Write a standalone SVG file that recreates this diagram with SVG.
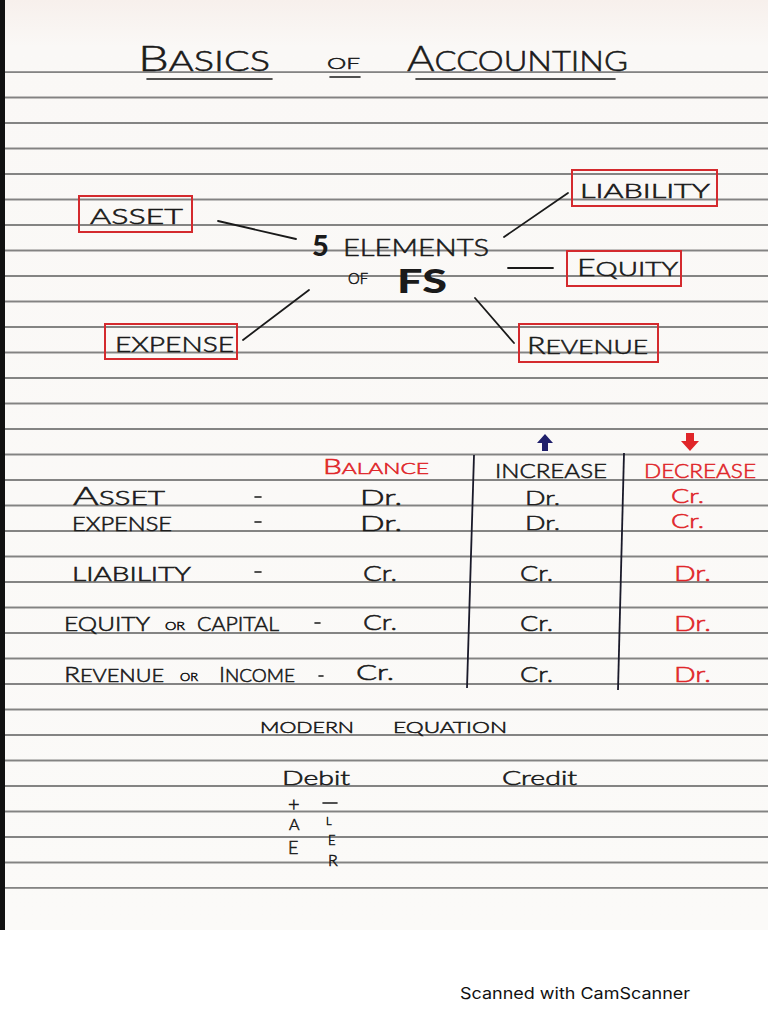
<svg xmlns="http://www.w3.org/2000/svg" width="768" height="1024" viewBox="0 0 768 1024">
<defs>
<linearGradient id="paper" x1="0" y1="0" x2="0" y2="1">
<stop offset="0" stop-color="#f7f0ec"/>
<stop offset="0.05" stop-color="#faf8f6"/>
<stop offset="1" stop-color="#fbfaf8"/>
</linearGradient>
<pattern id="rules" x="0" y="72" width="768" height="25.5" patternUnits="userSpaceOnUse">
<rect x="0" y="-0.75" width="768" height="1.5" fill="#5e5e5e"/>
<rect x="0" y="24.75" width="768" height="1.5" fill="#5e5e5e"/>
</pattern>
</defs>
<style>
.hw{font-family:Lato,"Liberation Sans","DejaVu Sans",sans-serif;font-weight:300;fill:#1a1a1a;stroke:#1a1a1a;stroke-width:0.55}
.bold{font-weight:900;stroke-width:0}
.red{fill:#e0262a;stroke:#e0262a}
.box{fill:none;stroke:#d42a2e;stroke-width:2}
.con{stroke:#1a1a1a;stroke-width:1.8;fill:none;stroke-linecap:round}
.vline{stroke:#1a1a2a;stroke-width:1.8;fill:none}
.ul{stroke:#1a1a1a;stroke-width:1.6;fill:none;stroke-linecap:round}
.dash{stroke:#1a1a1a;stroke-width:1.6;stroke-linecap:round}
</style>
<rect x="0" y="0" width="768" height="1024" fill="#ffffff"/>
<rect x="0" y="0" width="768" height="930" fill="url(#paper)"/>
<rect x="0" y="71.2" width="768" height="817.6" fill="url(#rules)"/>
<rect x="0" y="0" width="5" height="930" fill="#111111"/>

<!-- Title -->
<g id="title">
<text class="hw" x="138" y="71" textLength="132" lengthAdjust="spacingAndGlyphs"><tspan font-size="36">B</tspan><tspan font-size="28">ASICS</tspan></text>
<text class="hw" x="327" y="69" font-size="16" textLength="33" lengthAdjust="spacingAndGlyphs">OF</text>
<text class="hw" x="407" y="71" textLength="221" lengthAdjust="spacingAndGlyphs"><tspan font-size="36">A</tspan><tspan font-size="28">CCOUNTING</tspan></text>
<line class="ul" x1="147" y1="79" x2="272" y2="79"/>
<line class="ul" x1="330" y1="77" x2="360" y2="77"/>
<line class="ul" x1="416" y1="79" x2="615" y2="79"/>
</g>

<!-- Connectors -->
<g id="connectors">
<line class="con" x1="218" y1="221" x2="296" y2="239"/>
<line class="con" x1="504" y1="237" x2="568" y2="193"/>
<line class="con" x1="508" y1="268" x2="553" y2="268"/>
<line class="con" x1="243" y1="340" x2="309" y2="290"/>
<line class="con" x1="475" y1="298" x2="514" y2="343"/>
</g>

<!-- Center -->
<g id="center">
<text class="hw bold" x="312" y="256" font-size="29">5</text>
<text class="hw" x="343" y="256" font-size="24" textLength="146" lengthAdjust="spacingAndGlyphs">ELEMENTS</text>
<text class="hw" x="348" y="284" font-size="15" textLength="20" lengthAdjust="spacingAndGlyphs">OF</text>
<text class="hw bold" x="397" y="293" font-size="32" textLength="50" lengthAdjust="spacingAndGlyphs">FS</text>
</g>

<g id="asset">
<rect class="box" x="79" y="196" width="113" height="36"/>
<text class="hw" x="90" y="224" font-size="22" textLength="93" lengthAdjust="spacingAndGlyphs">ASSET</text>
</g>
<g id="liability">
<rect class="box" x="572" y="170" width="145" height="36"/>
<text class="hw" x="580" y="198" font-size="19" textLength="130" lengthAdjust="spacingAndGlyphs">LIABILITY</text>
</g>
<g id="equity">
<rect class="box" x="567" y="251" width="114" height="35"/>
<text class="hw" x="577" y="276" textLength="101" lengthAdjust="spacingAndGlyphs"><tspan font-size="23">E</tspan><tspan font-size="20">QUITY</tspan></text>
</g>
<g id="expense">
<rect class="box" x="105" y="324" width="132" height="35"/>
<text class="hw" x="115" y="352" font-size="22" textLength="119" lengthAdjust="spacingAndGlyphs">EXPENSE</text>
</g>
<g id="revenue">
<rect class="box" x="519" y="324" width="139" height="38"/>
<text class="hw" x="527" y="354" textLength="121" lengthAdjust="spacingAndGlyphs"><tspan font-size="23">R</tspan><tspan font-size="20">EVENUE</tspan></text>
</g>

<!-- Table -->
<g id="table">
<line class="vline" x1="474" y1="455" x2="467" y2="688"/>
<line class="vline" x1="624" y1="453" x2="618" y2="690"/>
<polygon fill="#1f1f6b" points="545,434 553,443 548,443 548,451 542,451 542,443 537,443"/>
<polygon fill="#e0262a" points="686,433 694,433 694,441 699,441 690,451 681,441 686,441"/>
<text class="hw red" x="323" y="474" textLength="106" lengthAdjust="spacingAndGlyphs"><tspan font-size="21">B</tspan><tspan font-size="16">ALANCE</tspan></text>
<text class="hw" x="495" y="478" font-size="20" textLength="112" lengthAdjust="spacingAndGlyphs">INCREASE</text>
<text class="hw red" x="644" y="478" font-size="20" textLength="112" lengthAdjust="spacingAndGlyphs">DECREASE</text>

<text class="hw" x="73" y="505" textLength="92" lengthAdjust="spacingAndGlyphs"><tspan font-size="25">A</tspan><tspan font-size="19">SSET</tspan></text>
<line class="dash" x1="255" y1="497" x2="261" y2="497"/>
<text class="hw" x="360" y="505" font-size="22" textLength="42" lengthAdjust="spacingAndGlyphs">Dr.</text>
<text class="hw" x="525" y="505" font-size="20" textLength="35" lengthAdjust="spacingAndGlyphs">Dr.</text>
<text class="hw red" x="671" y="503" font-size="20" textLength="33" lengthAdjust="spacingAndGlyphs">Cr.</text>

<text class="hw" x="72" y="531" font-size="19" textLength="100" lengthAdjust="spacingAndGlyphs">EXPENSE</text>
<line class="dash" x1="255" y1="522" x2="261" y2="522"/>
<text class="hw" x="360" y="531" font-size="22" textLength="42" lengthAdjust="spacingAndGlyphs">Dr.</text>
<text class="hw" x="525" y="530" font-size="20" textLength="35" lengthAdjust="spacingAndGlyphs">Dr.</text>
<text class="hw red" x="671" y="528" font-size="20" textLength="33" lengthAdjust="spacingAndGlyphs">Cr.</text>

<text class="hw" x="72" y="581" font-size="19" textLength="119" lengthAdjust="spacingAndGlyphs">LIABILITY</text>
<line class="dash" x1="255" y1="572" x2="261" y2="572"/>
<text class="hw" x="363" y="581" font-size="21" textLength="34" lengthAdjust="spacingAndGlyphs">Cr.</text>
<text class="hw" x="520" y="581" font-size="21" textLength="33" lengthAdjust="spacingAndGlyphs">Cr.</text>
<text class="hw red" x="674" y="581" font-size="22" textLength="37" lengthAdjust="spacingAndGlyphs">Dr.</text>

<text class="hw" x="64" y="631" font-size="19" textLength="86" lengthAdjust="spacingAndGlyphs">EQUITY</text>
<text class="hw" x="165" y="630" font-size="11" textLength="20" lengthAdjust="spacingAndGlyphs">OR</text>
<text class="hw" x="197" y="631" font-size="19" textLength="82" lengthAdjust="spacingAndGlyphs">CAPITAL</text>
<line class="dash" x1="315" y1="623" x2="320" y2="623"/>
<text class="hw" x="363" y="630" font-size="21" textLength="34" lengthAdjust="spacingAndGlyphs">Cr.</text>
<text class="hw" x="520" y="631" font-size="21" textLength="33" lengthAdjust="spacingAndGlyphs">Cr.</text>
<text class="hw red" x="674" y="631" font-size="22" textLength="37" lengthAdjust="spacingAndGlyphs">Dr.</text>

<text class="hw" x="64" y="682" textLength="100" lengthAdjust="spacingAndGlyphs"><tspan font-size="22">R</tspan><tspan font-size="18">EVENUE</tspan></text>
<text class="hw" x="180" y="681" font-size="11" textLength="18" lengthAdjust="spacingAndGlyphs">OR</text>
<text class="hw" x="219" y="682" textLength="76" lengthAdjust="spacingAndGlyphs"><tspan font-size="22">I</tspan><tspan font-size="18">NCOME</tspan></text>
<line class="dash" x1="319" y1="676" x2="323" y2="676"/>
<text class="hw" x="356" y="680" font-size="21" textLength="38" lengthAdjust="spacingAndGlyphs">Cr.</text>
<text class="hw" x="520" y="682" font-size="21" textLength="33" lengthAdjust="spacingAndGlyphs">Cr.</text>
<text class="hw red" x="674" y="682" font-size="22" textLength="37" lengthAdjust="spacingAndGlyphs">Dr.</text>
</g>

<!-- Modern equation -->
<g id="equation">
<text class="hw" x="260" y="733" font-size="16" textLength="94" lengthAdjust="spacingAndGlyphs">MODERN</text>
<text class="hw" x="393" y="733" font-size="16" textLength="114" lengthAdjust="spacingAndGlyphs">EQUATION</text>
<text class="hw" x="282" y="785" font-size="19" textLength="68" lengthAdjust="spacingAndGlyphs">Debit</text>
<text class="hw" x="502" y="785" font-size="19" textLength="75" lengthAdjust="spacingAndGlyphs">Credit</text>
<text class="hw" x="288" y="811" font-size="20">+</text>
<line class="dash" x1="323" y1="803" x2="337" y2="803"/>
<text class="hw" x="289" y="830" font-size="16">A</text>
<text class="hw" x="326" y="825" font-size="11">L</text>
<text class="hw" x="288" y="854" font-size="18">E</text>
<text class="hw" x="328" y="845" font-size="13">E</text>
<text class="hw" x="328" y="866" font-size="16">R</text>
</g>

<text x="460" y="999" font-family="Inter,'Liberation Sans',sans-serif" font-size="16" fill="#111111" textLength="230" lengthAdjust="spacingAndGlyphs">Scanned with CamScanner</text>
</svg>
